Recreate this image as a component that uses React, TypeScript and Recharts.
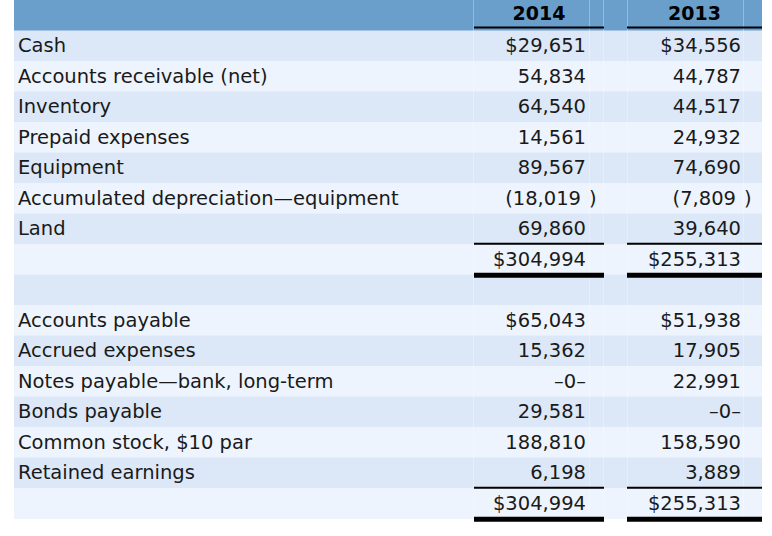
import React from 'react';
import { BarChart, Bar, XAxis, YAxis, LabelList } from 'recharts';

// balance sheet rows, top to bottom (first row is the year header)
const rowLabels = [
  '',
  'Cash',
  'Accounts receivable (net)',
  'Inventory',
  'Prepaid expenses',
  'Equipment',
  'Accumulated depreciation\u2014equipment',
  'Land',
  '',
  '',
  'Accounts payable',
  'Accrued expenses',
  'Notes payable\u2014bank, long-term',
  'Bonds payable',
  'Common stock, $10 par',
  'Retained earnings',
  '',
];
const years = ['2014', '2013'];
const values2014 = [null, 29651, 54834, 64540, 14561, 89567, -18019, 69860, 304994, null, 65043, 15362, 0, 29581, 188810, 6198, 304994];
const values2013 = [null, 34556, 44787, 44517, 24932, 74690, -7809, 39640, 255313, null, 51938, 17905, 22991, 0, 158590, 3889, 255313];

const data = rowLabels.map((label, i) => ({
  key: `r${i}`,
  label,
  v2014: values2014[i],
  v2013: values2013[i],
  band: 1,
}));

const FONT = '"DejaVu Sans", Verdana, sans-serif';
const FS = 19.5;
// column geometry, relative to the table's left edge
const COLS = [
  { left: 460, right: 590, textRight: 572 },
  { left: 613, right: 748, textRight: 727 },
];
const GRID_X = [459, 575, 589, 613, 729];

const fmt = (v: number, dollar: boolean) => {
  if (v === 0) return '\u20130\u2013';
  const s = Math.abs(v).toLocaleString('en-US');
  return dollar ? `$${s}` : s;
};

// row background stripes
const RowShape = (props: any) => {
  const { x, y, width, height, index } = props;
  const fill = index === 0 ? '#6a9fcc' : index % 2 === 1 ? '#dce8f7' : '#eef4fd';
  return (
    <g>
      <rect x={x} y={y} width={width} height={height} fill={fill} />
      {GRID_X.map((gx) => (
        <line key={gx} x1={x + gx + 0.5} x2={x + gx + 0.5} y1={y} y2={y + height} stroke="#ffffff" strokeOpacity={0.3} />
      ))}
    </g>
  );
};

// row texts and rules, drawn above all stripes
const RowText = (props: any) => {
  const { x, y, height, index } = props;
  const row = data[index];
  if (!row) return null;
  const isHeader = index === 0;
  const isTotal = !isHeader && row.label === '' && row.v2014 != null;
  const prevLabel = index > 0 ? data[index - 1].label : 'x';
  const dollar = isTotal || prevLabel === '';
  const mid = y + height / 2 - 0.75;
  const base = mid + 7;
  const vals = [row.v2014, row.v2013];

  if (isHeader) {
    return (
      <g>
        {COLS.map((c, j) => (
          <g key={j}>
            <text x={x + (c.left + c.right) / 2} y={y + 20} textAnchor="middle" fontFamily={FONT} fontSize={19} fontWeight="bold" fill="#000">
              {years[j]}
            </text>
            <rect x={x + c.left} y={y + 26.5} width={c.right - c.left} height={2} fill="#000" />
          </g>
        ))}
      </g>
    );
  }

  return (
    <g>
      {row.label && (
        <text x={x + 4} y={base} fontFamily={FONT} fontSize={FS} fill="#1a1a1a">
          {row.label}
        </text>
      )}
      {vals.map((v, j) => {
        if (v == null) return null;
        const c = COLS[j];
        const right = x + c.textRight;
        return (
          <g key={j}>
            {v < 0 ? (
              <>
                <text x={right - 5} y={base} textAnchor="end" fontFamily={FONT} fontSize={FS} fill="#1a1a1a">
                  ({fmt(v, dollar)}
                </text>
                <text x={right + 3} y={base} fontFamily={FONT} fontSize={FS} fill="#1a1a1a">
                  )
                </text>
              </>
            ) : (
              <text x={right} y={base} textAnchor="end" fontFamily={FONT} fontSize={FS} fill="#1a1a1a">
                {fmt(v, dollar)}
              </text>
            )}
            {isTotal && (
              <>
                <rect x={x + c.left} y={mid - 16} width={c.right - c.left} height={2} fill="#000" />
                <rect x={x + c.left} y={mid + 14} width={c.right - c.left} height={5} fill="#000" />
              </>
            )}
          </g>
        );
      })}
    </g>
  );
};

export default function App() {
  return (
    <div style={{ position: 'absolute', left: 0, top: 0, background: '#fff' }}>
      <BarChart
        width={772}
        height={536}
        data={data}
        layout="vertical"
        margin={{ top: 0, right: 10, bottom: 17.5, left: 14 }}
        barCategoryGap={0}
      >
        <XAxis type="number" domain={[0, 1]} hide />
        <YAxis type="category" dataKey="key" hide />
        <Bar dataKey="band" isAnimationActive={false} shape={RowShape}>
          <LabelList dataKey="label" content={RowText} />
        </Bar>
      </BarChart>
    </div>
  );
}
